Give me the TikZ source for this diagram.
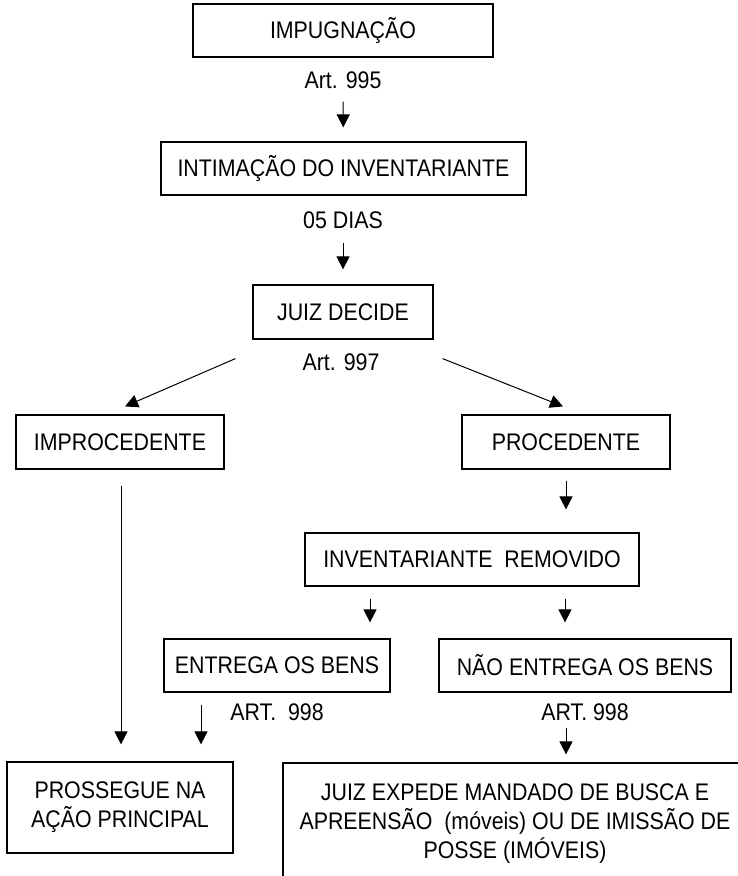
\documentclass[tikz,border=0pt]{standalone}
\usepackage{fontspec}
\setmainfont{Liberation Sans}[FakeStretch=0.89]
\usetikzlibrary{arrows.meta}

\begin{document}
\begin{tikzpicture}[x=1pt, y=-1pt,
			every node/.style = {inner sep=0pt, align=center,
					font=\fontsize{24}{29}\selectfont},
			box/.style = {shape=rectangle, draw, line width=1.2pt,
					minimum height=53pt},
			arr/.style = {line width=1pt,
					-{Triangle[width=13pt,length=13pt]}}]
			\clip (0,0) rectangle (738,876);
			% main line
			\node[box, minimum width=300pt] (imp) at (343,30.5) {IMPUGNAÇÃO};
			\node (art995) at (343,80) {Art. 995};
			\node[box, minimum width=365pt] (intim) at (343.5,168.5) {INTIMAÇÃO DO INVENTARIANTE};
			\node (dias) at (343,220) {05 DIAS};
			\node[box, minimum width=180pt, minimum height=54pt] (juiz) at (343,312) {JUIZ DECIDE};
			\node (art997) at (341,362) {Art. 997};
			% decision
			\node[box, minimum width=208pt, minimum height=54pt] (improc) at (120,442) {IMPROCEDENTE};
			\node[box, minimum width=208pt, minimum height=54pt] (proc) at (566,442) {PROCEDENTE};
			\node[box, minimum width=334pt] (rem) at (472,559.5) {INVENTARIANTE\ \ REMOVIDO};
			\node[box, minimum width=226pt] (ent) at (277,665.5) {ENTREGA OS BENS};
			\node[box, minimum width=292pt] (naoent) at (585,665.5) {NÃO ENTREGA OS BENS};
			\node (art998a) at (277,712) {ART.\ \ 998};
			\node (art998b) at (585,712) {ART. 998};
			% results
			\node[box, minimum width=226pt, minimum height=91pt] (pross) at (120,807.5) {PROSSEGUE NA\\AÇÃO PRINCIPAL};
			\node[box, minimum width=464pt, minimum height=122pt] (exped) at (515,824) {JUIZ EXPEDE MANDADO DE BUSCA E\\APREENSÃO\ \ (móveis) OU DE IMISSÃO DE\\POSSE (IMÓVEIS)};
			% arrows
			\draw[arr, shorten <=13pt, shorten >=14pt] (art995) -- (intim);
			\draw[arr, shorten <=14pt, shorten >=15pt] (dias) -- (juiz);
			\draw[arr] ([xshift=-17pt,yshift=-19pt]juiz.south west) -- ([xshift=5pt,yshift=8pt]improc.north);
			\draw[arr] ([xshift=9pt,yshift=-19pt]juiz.south east) -- ([xshift=-3pt,yshift=8pt]proc.north);
			\draw[arr, shorten <=16pt, shorten >=17pt] ([xshift=1pt]improc.south) -- ([xshift=1pt]improc.south |- pross.north);
			\draw[arr, shorten <=11pt, shorten >=23pt] (proc.south) -- (proc.south |- rem.north);
			\draw[arr, shorten <=12pt, shorten >=16pt] ([xshift=-102pt]rem.south) -- ([xshift=-102pt]rem.south |- ent.north);
			\draw[arr, shorten <=12pt, shorten >=16pt] ([xshift=93pt]rem.south) -- ([xshift=93pt]rem.south |- naoent.north);
			\draw[arr, shorten <=12pt, shorten >=17pt] ([xshift=-76pt]ent.south) -- ([xshift=-76pt]ent.south |- pross.north);
			\draw[arr, shorten <=7pt, shorten >=8pt] ([xshift=-19pt]art998b.south) -- ([xshift=-19pt]art998b.south |- exped.north);
		\end{tikzpicture}
\end{document}
